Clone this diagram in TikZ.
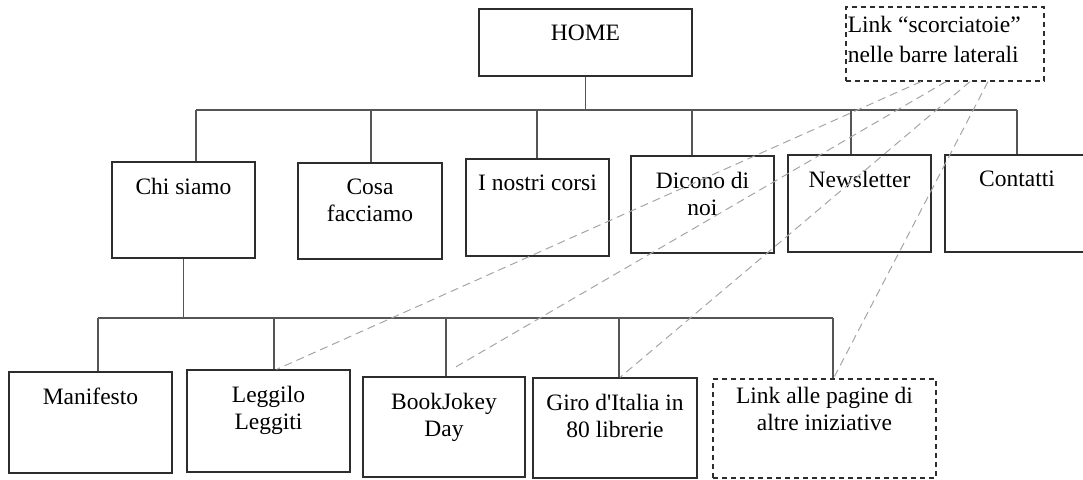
\documentclass[tikz,border=0pt]{standalone}
\usepackage{fontspec}
\setmainfont{Liberation Serif}
\usetikzlibrary{positioning,fit,calc}
\definecolor{boxline}{RGB}{45,45,45}
\definecolor{treeline}{RGB}{85,85,85}
\definecolor{linkgray}{RGB}{165,165,165}
\newcommand\boxfont{\fontsize{11.75}{13.5}\selectfont}
\tikzset{
  page/.style={rectangle,draw=boxline,line width=0.6pt,inner sep=0pt},
  extra/.style={page,dash pattern=on 2.5pt off 2pt},
  boxtext/.style={anchor=north,align=center,inner sep=0pt,yshift=-8pt,font=\boxfont},
  shorttext/.style={anchor=north west,align=left,inner sep=0pt,xshift=1pt,yshift=-4.5pt,
              font=\fontsize{11.75}{15}\selectfont},
  tree/.style={draw=treeline,line width=0.6pt},
  shortcut/.style={draw=linkgray,line width=0.5pt,dash pattern=on 4pt off 2.5pt},
}
\begin{document}
\begin{tikzpicture}[x=0.5pt,y=-0.5pt]
  \path[use as bounding box] (0,0) rectangle (1083,479);
  \clip (0,0) rectangle (1083,479);

  % top level
  \node[page,fit={(479,9) (692,76)},label={[boxtext]north:HOME}] (home) {};
  \node[extra,fit={(846,7) (1044,81)},
        label={[shorttext]north west:Link “scorciatoie”\\nelle barre laterali}] (short) {};

  % sections
  \node[page,fit={(112,162) (255,258)},label={[boxtext]north:Chi siamo}] (chi) {};
  \node[page,fit={(298,163) (442,259)},label={[boxtext]north:Cosa\\facciamo}] (cosa) {};
  \node[page,fit={(466,159) (609,256)},label={[boxtext]north:I nostri corsi}] (corsi) {};
  \node[page,fit={(631,156) (774,253)},label={[boxtext]north:Dicono di\\noi}] (dicono) {};
  \node[page,fit={(788,155) (931,252)},label={[boxtext]north:Newsletter}] (news) {};
  \node[page,fit={(945,155) (1089,252)},label={[boxtext]north:Contatti}] (contatti) {};

  % sub-pages of Chi siamo
  \node[page,fit={(9,372) (172,473)},label={[boxtext]north:Manifesto}] (manif) {};
  \node[page,fit={(187,370) (350,472)},label={[boxtext]north:Leggilo\\Leggiti}] (leggilo) {};
  \node[page,fit={(363,377) (525,477)},label={[boxtext]north:BookJokey\\Day}] (bookjokey) {};
  \node[page,fit={(533,378) (697,478)},
        label={[boxtext]north:Giro d\textquotesingle Italia in\\80 librerie}] (giro) {};
  \node[extra,fit={(713,379) (936,478)},
        label={[boxtext,yshift=4pt]north:Link alle pagine di\\altre iniziative}] (altre) {};

  % tree
  \coordinate (bar1) at (196,110);
  \coordinate (bar2) at (98,318);
  \draw[tree] (home.south) -- (home.south |- bar1);
  \draw[tree] (bar1) -- ++(821,0);
  \foreach \x/\n in {196/chi,371/cosa,537/corsi,692/dicono,851/news,1017/contatti}{
    \coordinate (drop) at (\x,110);
    \draw[tree] (drop) -- (drop |- \n.north);
  }
  \draw[tree] (chi.south) -- (chi.south |- bar2);
  \draw[tree] (bar2) -- ++(735,0);
  \foreach \x/\n in {98/manif,274/leggilo,446/bookjokey,619/giro,833/altre}{
    \coordinate (drop) at (\x,318);
    \draw[tree] (drop) -- (drop |- \n.north);
  }

  % shortcut links
  \foreach \dx/\n/\ex/\ey in {-24/leggilo/8/0,1/bookjokey/11/-9,25/giro/5/0,43/altre/10/-2}
    \draw[shortcut] ($(short.south)+(\dx,0)$) -- ($(\n.north)+(\ex,\ey)$);
\end{tikzpicture}
\end{document}
